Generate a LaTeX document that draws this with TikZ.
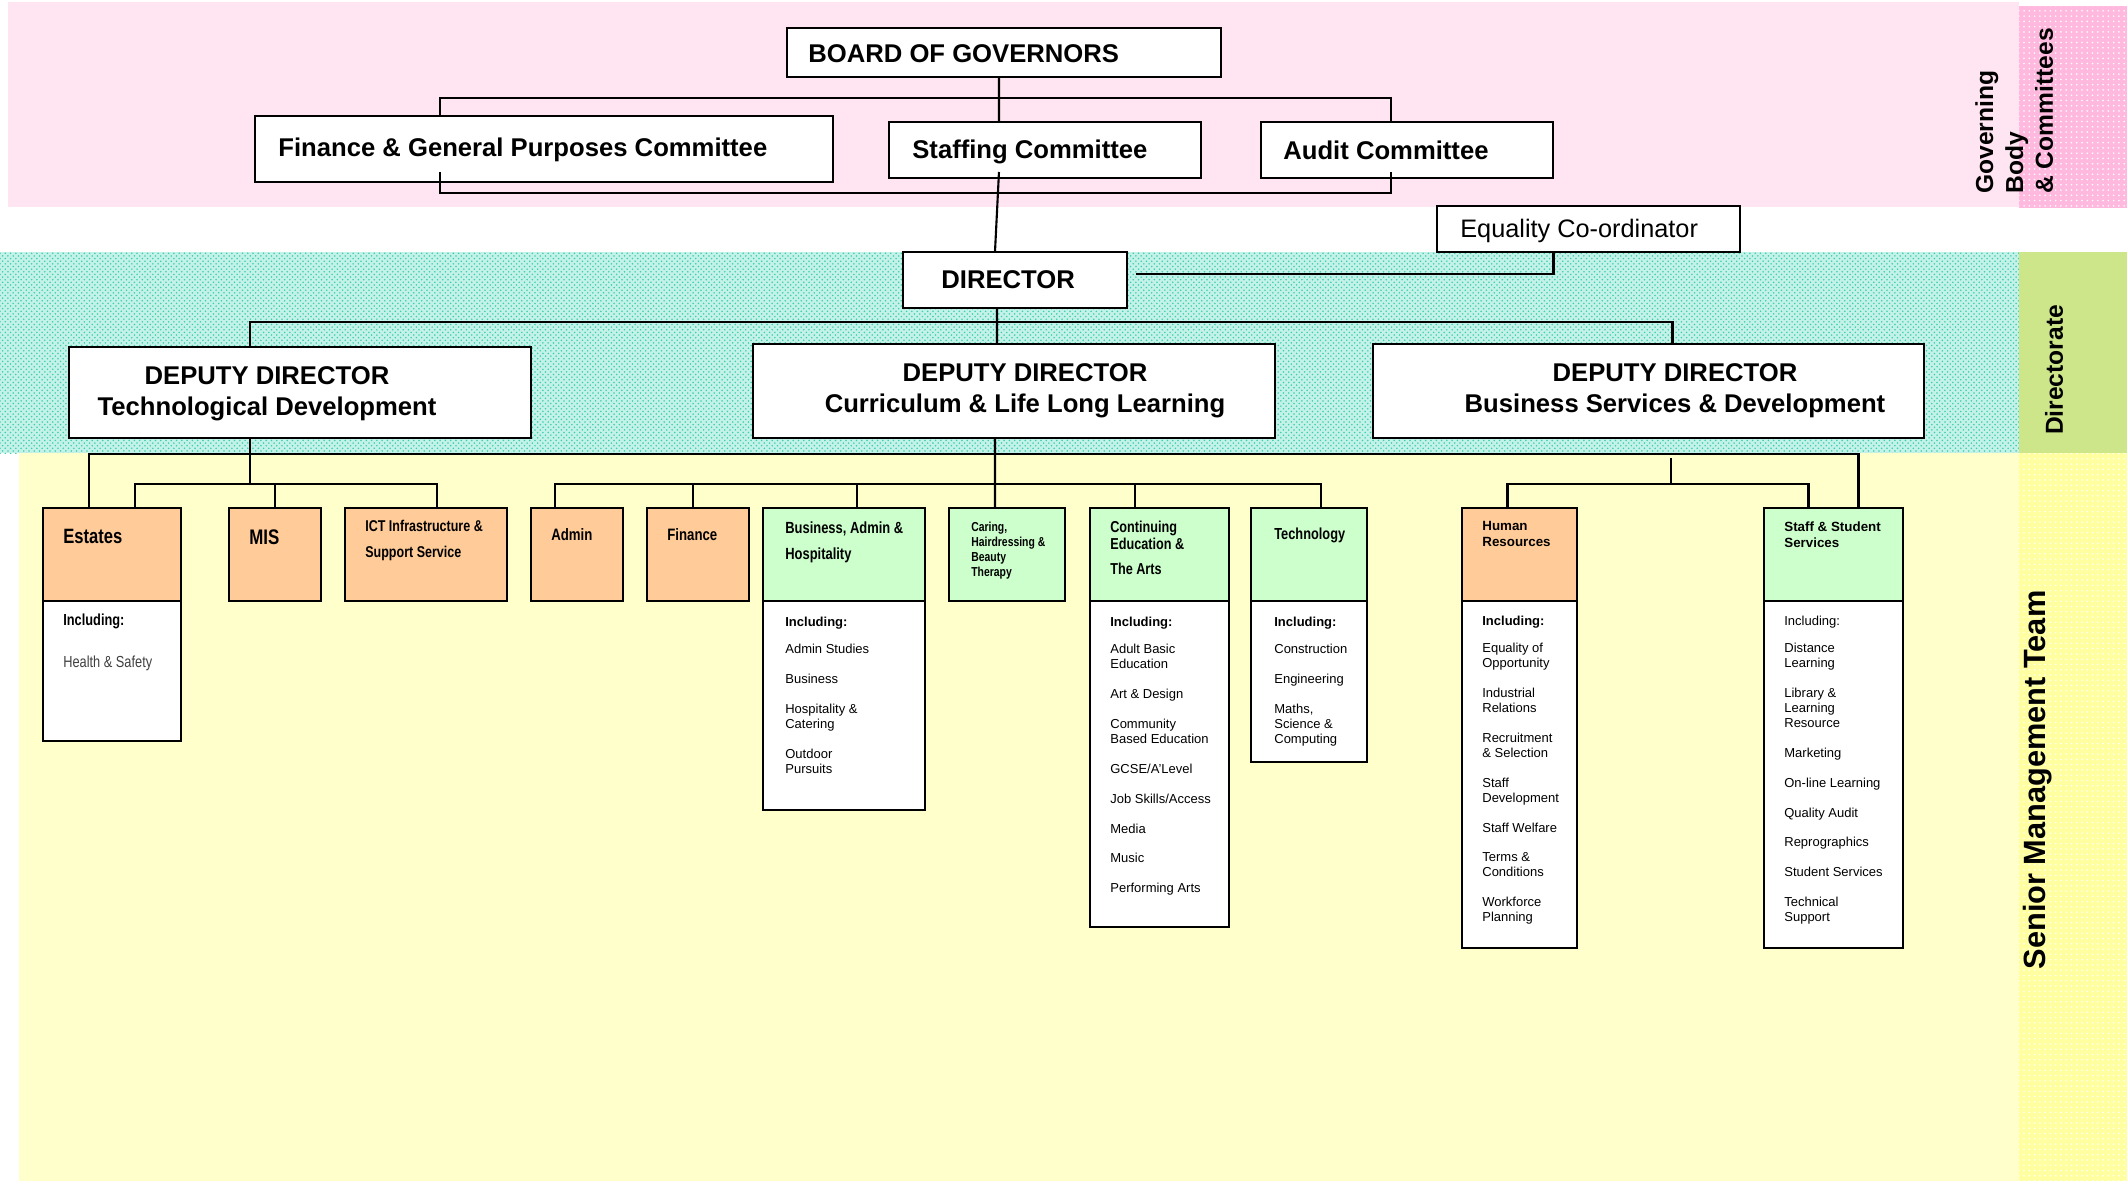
\documentclass[tikz,border=0pt]{standalone}
\usepackage{fontspec}
\setmainfont{Liberation Sans}
\newfontfamily\narrowfont[FakeStretch=0.8]{Liberation Sans}
\usetikzlibrary{patterns}

\definecolor{govpink}{RGB}{255,228,241}
\definecolor{govdots}{RGB}{255,185,222}
\definecolor{dirteal}{RGB}{196,242,232}
\definecolor{tealdots}{RGB}{60,206,176}
\definecolor{dirgreen}{RGB}{206,230,138}
\definecolor{smtyellow}{RGB}{255,255,204}
\definecolor{smtdots}{RGB}{255,255,160}
\definecolor{hdrorange}{RGB}{255,204,153}
\definecolor{hdrgreen}{RGB}{204,255,204}

\tikzset{
  box/.style={draw, line width=1.4pt, fill=white, anchor=north west, inner sep=0pt, outer sep=0pt},
  hdr/.style={box, minimum height=1.86cm},
  link/.style={line width=1.2pt},
  toptxt/.style={anchor=base west, inner sep=0pt, font=\fontsize{14.6}{17}\selectfont\bfseries},
  deptxt/.style={anchor=north, inner sep=0pt, align=center, font=\fontsize{14.6}{17.8}\selectfont\bfseries},
  unittxt/.style={anchor=north west, inner sep=0pt, align=left},
  lsttxt/.style={anchor=north west, inner sep=0pt, align=left, font=\fontsize{7.4}{8.5}\selectfont},
  side/.style={rotate=90, inner sep=0pt, font=\fontsize{14}{17}\selectfont\bfseries}
}

\begin{document}
\begin{tikzpicture}[x=0.02cm, y=-0.02cm]
    \useasboundingbox (0,0) rectangle (2127,1181);
    \fill[white] (0,0) rectangle (2127,1181);

    % bands
    \fill[govpink] (8,2) rectangle (2019,207);
    \fill[govdots] (2019,6) rectangle (2127,208);
    \fill[pattern=dots, pattern color=white] (2019,6) rectangle (2127,208);
    \fill[dirteal] (0,252) rectangle (2019,453);
    \fill[pattern=crosshatch dots, pattern color=tealdots] (0,252) rectangle (2019,453);
    \fill[dirgreen] (2019,252) rectangle (2127,453);
    \fill[smtyellow] (19,453) rectangle (2019,1181);
    \fill[smtdots] (2019,453) rectangle (2127,1181);
    \fill[pattern=dots, pattern color=white] (2019,453) rectangle (2127,1181);

    \node[side, anchor=north west, align=left] (gov-t) at (1975,194) {Governing\\Body\\\& Committees};
    \node[side] (dir-side) at (2054,370) {Directorate};
    \node[side, font=\fontsize{17.5}{20}\selectfont\bfseries] (smt-side) at (2038,780) {Senior Management Team};

    % governors and committees
    \node[box, minimum width=8.68cm, minimum height=0.98cm] (board) at (787,28) {};
    \node[box, minimum width=11.56cm, minimum height=1.32cm] (fgp) at (255,116) {};
    \node[box, minimum width=6.24cm, minimum height=1.12cm] (staffing) at (889,122) {};
    \node[box, minimum width=5.84cm, minimum height=1.12cm] (audit) at (1261,122) {};
    \node[box, minimum width=6.06cm, minimum height=0.92cm] (eq) at (1437,206) {};
    \node[box, minimum width=4.48cm, minimum height=1.12cm] (dir) at (903,252) {};

    \node[toptxt] (board-t) at (808,62) {BOARD OF GOVERNORS};
    \node[toptxt] (fgp-t) at (278,156) {Finance \& General Purposes Committee};
    \node[toptxt] (staffing-t) at (912,158) {Staffing Committee};
    \node[toptxt] (audit-t) at (1283,159) {Audit Committee};
    \node[toptxt] (dir-t) at (941,288) {DIRECTOR};
    \node[toptxt, font=\fontsize{14.4}{17}\selectfont] (eq-t) at (1460,237) {Equality Co-ordinator};

    % deputies
    \node[box, minimum width=9.24cm, minimum height=1.82cm] (dd1) at (69,347) {};
    \node[box, minimum width=10.44cm, minimum height=1.88cm] (dd2) at (753,344) {};
    \node[box, minimum width=11.02cm, minimum height=1.88cm] (dd3) at (1373,344) {};
    \node[deptxt] (dd1-t) at (267,366) {DEPUTY DIRECTOR\\Technological Development};
    \node[deptxt] (dd2-t) at (1025,363) {DEPUTY DIRECTOR\\Curriculum \& Life Long Learning};
    \node[deptxt] (dd3-t) at (1675,363) {DEPUTY DIRECTOR\\Business Services \& Development};

    % senior management units
    \node[hdr, fill=hdrorange, minimum width=2.76cm] (estates) at (43,508) {};
    \node[hdr, fill=hdrorange, minimum width=1.84cm] (mis) at (229,508) {};
    \node[hdr, fill=hdrorange, minimum width=3.24cm] (ict) at (345,508) {};
    \node[hdr, fill=hdrorange, minimum width=1.84cm] (admin) at (531,508) {};
    \node[hdr, fill=hdrorange, minimum width=2.04cm] (fin) at (647,508) {};
    \node[hdr, fill=hdrgreen, minimum width=3.24cm] (bus) at (763,508) {};
    \node[hdr, fill=hdrgreen, minimum width=2.32cm] (caring) at (949,508) {};
    \node[hdr, fill=hdrgreen, minimum width=2.78cm] (cont) at (1090,508) {};
    \node[hdr, fill=hdrgreen, minimum width=2.32cm] (tech) at (1251,508) {};
    \node[hdr, fill=hdrorange, minimum width=2.30cm] (hr) at (1462,508) {};
    \node[hdr, fill=hdrgreen, minimum width=2.78cm] (sss) at (1764,508) {};

    \node[box, minimum width=2.76cm, minimum height=2.80cm] (estates-l) at (estates.south west) {};
    \node[box, minimum width=3.24cm, minimum height=4.18cm] (bus-l) at (bus.south west) {};
    \node[box, minimum width=2.78cm, minimum height=6.52cm] (cont-l) at (cont.south west) {};
    \node[box, minimum width=2.32cm, minimum height=3.22cm] (tech-l) at (tech.south west) {};
    \node[box, minimum width=2.30cm, minimum height=6.94cm] (hr-l) at (hr.south west) {};
    \node[box, minimum width=2.78cm, minimum height=6.94cm] (sss-l) at (sss.south west) {};

    \node[unittxt, font=\narrowfont\fontsize{11.8}{14}\selectfont\bfseries] (estates-t) at (63,529) {Estates};
    \node[unittxt, font=\narrowfont\fontsize{12}{14}\selectfont\bfseries] (mis-t) at (249,529) {MIS};
    \node[unittxt, font=\narrowfont\fontsize{8.9}{14.8}\selectfont\bfseries] (ict-t) at (365,520) {ICT Infrastructure \&\\Support Service};
    \node[unittxt, font=\narrowfont\fontsize{9.4}{14}\selectfont\bfseries] (admin-t) at (551,528) {Admin};
    \node[unittxt, font=\narrowfont\fontsize{9.4}{14}\selectfont\bfseries] (fin-t) at (667,528) {Finance};
    \node[unittxt, font=\narrowfont\fontsize{9.2}{14.8}\selectfont\bfseries] (bus-t) at (785,521) {Business, Admin \&\\Hospitality};
    \node[unittxt, font=\narrowfont\fontsize{7.4}{8.5}\selectfont\bfseries] (caring-t) at (971,522) {Caring,\\Hairdressing \&\\Beauty\\Therapy};
    \node[unittxt, font=\narrowfont\fontsize{9}{9.7}\selectfont\bfseries] (cont-t) at (1110,521) {Continuing\\Education \&\\[4.5pt]The Arts};
    \node[unittxt, font=\narrowfont\fontsize{9.1}{14}\selectfont\bfseries] (tech-t) at (1274,528) {Technology};
    \node[unittxt, font=\fontsize{7.6}{9.1}\selectfont\bfseries] (hr-t) at (1482,521) {Human\\Resources};
    \node[unittxt, font=\fontsize{7.6}{9.1}\selectfont\bfseries] (sss-t) at (1784,521) {Staff \& Student\\Services};

    \node[unittxt, font=\narrowfont\fontsize{9.1}{11}\selectfont] (estates-lt) at (63,614) {\textbf{Including:}\\[12.9pt]\textcolor{black!75}{Health \& Safety}};
    \node[lsttxt] (bus-lt) at (785,617) {\textbf{Including:}\\[6.9pt]Admin Studies\\[8.5pt]Business\\[8.5pt]Hospitality \&\\Catering\\[8.5pt]Outdoor\\Pursuits};
    \node[lsttxt] (cont-lt) at (1110,617) {\textbf{Including:}\\[6.9pt]Adult Basic\\Education\\[8.5pt]Art \& Design\\[8.5pt]Community\\Based Education\\[8.5pt]GCSE/A'Level\\[8.5pt]Job Skills/Access\\[8.5pt]Media\\[8.5pt]Music\\[8.5pt]Performing Arts};
    \node[lsttxt] (tech-lt) at (1274,617) {\textbf{Including:}\\[6.9pt]Construction\\[8.5pt]Engineering\\[8.5pt]Maths,\\Science \&\\Computing};
    \node[lsttxt] (hr-lt) at (1482,616) {\textbf{Including:}\\[6.9pt]Equality of\\Opportunity\\[8.5pt]Industrial\\Relations\\[8.5pt]Recruitment\\\& Selection\\[8.5pt]Staff\\Development\\[8.5pt]Staff Welfare\\[8.5pt]Terms \&\\Conditions\\[8.5pt]Workforce\\Planning};
    \node[lsttxt] (sss-lt) at (1784,616) {Including:\\[6.9pt]Distance\\Learning\\[8.5pt]Library \&\\Learning\\Resource\\[8.5pt]Marketing\\[8.5pt]On-line Learning\\[8.5pt]Quality Audit\\[8.5pt]Reprographics\\[8.5pt]Student Services\\[8.5pt]Technical\\Support};

    % connectors, governors
    \draw[link] ([shift={(-5,0)}]board.south) -- ([shift={(-46,0)}]staffing.north);
    \draw[link] ([shift={(-104,0)}]fgp.north) |- ([shift={(-16,-24)}]audit.north) -- ([shift={(-16,0)}]audit.north);
    \draw[link] ([shift={(-104,-10)}]fgp.south) |- ([shift={(-16,15)}]audit.south) -- ([shift={(-16,-6)}]audit.south);
    \draw[link] ([shift={(-46,-6)}]staffing.south) -- ([shift={(-20,0)}]dir.north);
    \draw[link] ([shift={(-35,0)}]eq.south) |- ([shift={(9,-6)}]dir.east);

    % connectors, directorate
    \draw[link] ([shift={(-18,0)}]dir.south) -- ([shift={(-17,0)}]dd2.north);
    \draw[link] ([shift={(-50,0)}]dd1.north) |- ([shift={(24,-22)}]dd3.north) -- ([shift={(24,0)}]dd3.north);

    % connectors, units
    \draw[link] ([shift={(-23,0)}]estates.north) |- ([shift={(25,-54)}]sss.north) -- ([shift={(25,0)}]sss.north);
    \draw[link] ([shift={(-50,0)}]dd1.south) -- ++(0,46);
    \draw[link] ([shift={(23,0)}]estates.north) |- ([shift={(11,-24)}]ict.north) -- ([shift={(11,0)}]ict.north);
    \draw[link] (mis.north) -- ++(0,-24);
    \draw[link] ([shift={(-22,0)}]admin.north) |- ([shift={(12,-24)}]tech.north) -- ([shift={(12,0)}]tech.north);
    \draw[link] ([shift={(-5,0)}]fin.north) -- ++(0,-24);
    \draw[link] ([shift={(13,0)}]bus.north) -- ++(0,-24);
    \draw[link] ([shift={(-24.5,0)}]cont.north) -- ++(0,-24);
    \draw[link] ([shift={(-19,0)}]dd2.south) -- ([shift={(-12,0)}]caring.north);
    \coordinate (tk) at (1671,458);
    \draw[link] (tk) -- ++(0,26);
    \draw[link] ([shift={(-12,0)}]hr.north) |- ([shift={(-25,-24)}]sss.north) -- ([shift={(-25,0)}]sss.north);
\end{tikzpicture}
\end{document}
